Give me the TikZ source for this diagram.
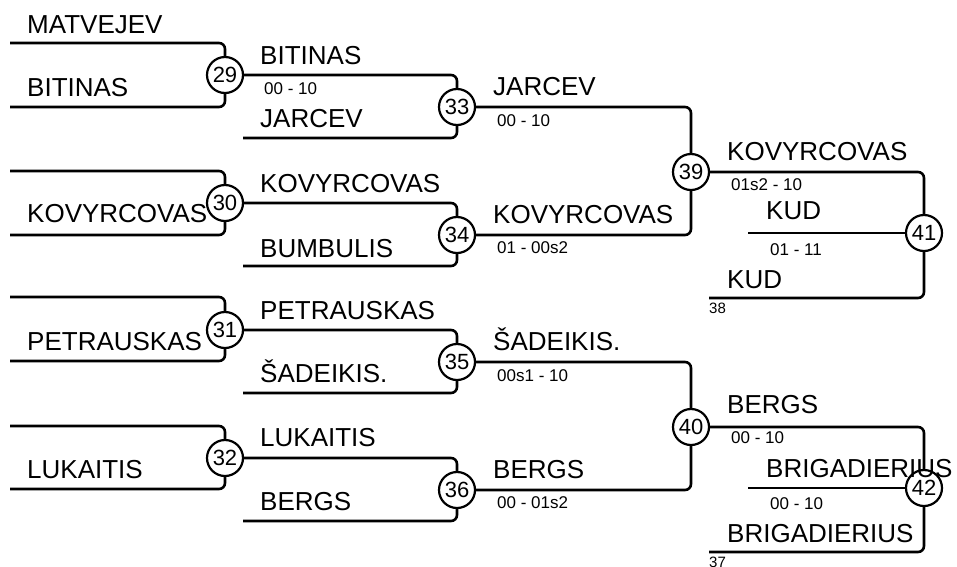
\documentclass[tikz,border=0pt]{standalone}
\usepackage{fontspec}
\setmainfont{Liberation Sans}
\begin{document}
\begin{tikzpicture}[x=1pt,y=-1pt,
 ln/.style={line width=2.6pt, rounded corners=6pt},
 mt/.style={circle, draw, line width=2.2pt, fill=white, minimum size=36pt, inner sep=0pt, font=\fontsize{22}{22}\selectfont},
 nm/.style={anchor=base west, inner sep=0pt, font=\fontsize{26}{26}\selectfont},
 sc/.style={anchor=base west, inner sep=0pt, font=\fontsize{17}{17}\selectfont},
 sm/.style={anchor=base west, inner sep=0pt, font=\fontsize{15}{15}\selectfont}]
\useasboundingbox (0,0) rectangle (957,566);
% match circles
\node[mt] (m29) at (225,75) {29};
\node[mt] (m30) at (225,203) {30};
\node[mt] (m31) at (225,330) {31};
\node[mt] (m32) at (225,458) {32};
\node[mt] (m33) at (457,107) {33};
\node[mt] (m34) at (457,235) {34};
\node[mt] (m35) at (457,362) {35};
\node[mt] (m36) at (457,490) {36};
\node[mt] (m39) at (691,172) {39};
\node[mt] (m40) at (691,427) {40};
\node[mt] (m41) at (924,233) {41};
\node[mt] (m42) at (924,488) {42};
% free ends
\coordinate (a29t) at (10,43);  \coordinate (a29b) at (10,107);
\coordinate (a30t) at (10,171); \coordinate (a30b) at (10,235);
\coordinate (a31t) at (10,297); \coordinate (a31b) at (10,361);
\coordinate (a32t) at (10,426); \coordinate (a32b) at (10,489);
\coordinate (b33) at (243,138); \coordinate (b34) at (243,266);
\coordinate (b35) at (243,393); \coordinate (b36) at (243,521);
\coordinate (k41) at (748,233); \coordinate (b41) at (709,298);
\coordinate (k42) at (748,488); \coordinate (b42) at (709,552);
% connectors
\draw[ln] (a29t) -| (m29); \draw[ln] (a29b) -| (m29);
\draw[ln] (a30t) -| (m30); \draw[ln] (a30b) -| (m30);
\draw[ln] (a31t) -| (m31); \draw[ln] (a31b) -| (m31);
\draw[ln] (a32t) -| (m32); \draw[ln] (a32b) -| (m32);
\draw[ln] (m29) -| (m33); \draw[ln] (b33) -| (m33);
\draw[ln] (m30) -| (m34); \draw[ln] (b34) -| (m34);
\draw[ln] (m31) -| (m35); \draw[ln] (b35) -| (m35);
\draw[ln] (m32) -| (m36); \draw[ln] (b36) -| (m36);
\draw[ln] (m33) -| (m39); \draw[ln] (m34) -| (m39);
\draw[ln] (m35) -| (m40); \draw[ln] (m36) -| (m40);
\draw[ln] (m39) -| (m41); \draw[ln] (k41) -- (m41); \draw[ln] (b41) -| (m41);
\draw[ln] (m40) -| (m42); \draw[ln] (k42) -- (m42); \draw[ln] (b42) -| (m42);
% names
\node[nm] (n1) at (27,33) {MATVEJEV};
\node[nm] (n2) at (27,96) {BITINAS};
\node[nm] (n3) at (27,222) {KOVYRCOVAS};
\node[nm] (n4) at (27,350) {PETRAUSKAS};
\node[nm] (n5) at (27,478) {LUKAITIS};
\node[nm] (n6) at (260,64) {BITINAS};
\node[nm] (n7) at (260,127) {JARCEV};
\node[nm] (n8) at (260,192) {KOVYRCOVAS};
\node[nm] (n9) at (260,257) {BUMBULIS};
\node[nm] (n10) at (260,319) {PETRAUSKAS};
\node[nm] (n11) at (260,382) {ŠADEIKIS.};
\node[nm] (n12) at (260,446) {LUKAITIS};
\node[nm] (n13) at (260,510) {BERGS};
\node[nm] (n14) at (493,95) {JARCEV};
\node[nm] (n15) at (493,223) {KOVYRCOVAS};
\node[nm] (n16) at (493,350) {ŠADEIKIS.};
\node[nm] (n17) at (493,478) {BERGS};
\node[nm] (n18) at (727,160) {KOVYRCOVAS};
\node[nm] (n19) at (766,219) {KUD};
\node[nm] (n20) at (727,288) {KUD};
\node[nm] (n21) at (727,413) {BERGS};
\node[nm] (n22) at (766,477) {BRIGADIERIUS};
\node[nm] (n23) at (727,542) {BRIGADIERIUS};
% scores
\node[sc] (s1) at (264,94) {00 - 10};
\node[sc] (s2) at (497,126) {00 - 10};
\node[sc] (s3) at (497,253) {01 - 00s2};
\node[sc] (s4) at (731,190) {01s2 - 10};
\node[sc] (s5) at (770,255) {01 - 11};
\node[sm] (s6) at (709,313) {38};
\node[sc] (s7) at (497,381) {00s1 - 10};
\node[sc] (s8) at (497,508) {00 - 01s2};
\node[sc] (s9) at (731,443) {00 - 10};
\node[sc] (s10) at (770,509) {00 - 10};
\node[sm] (s11) at (709,567) {37};
\end{tikzpicture}
\end{document}
